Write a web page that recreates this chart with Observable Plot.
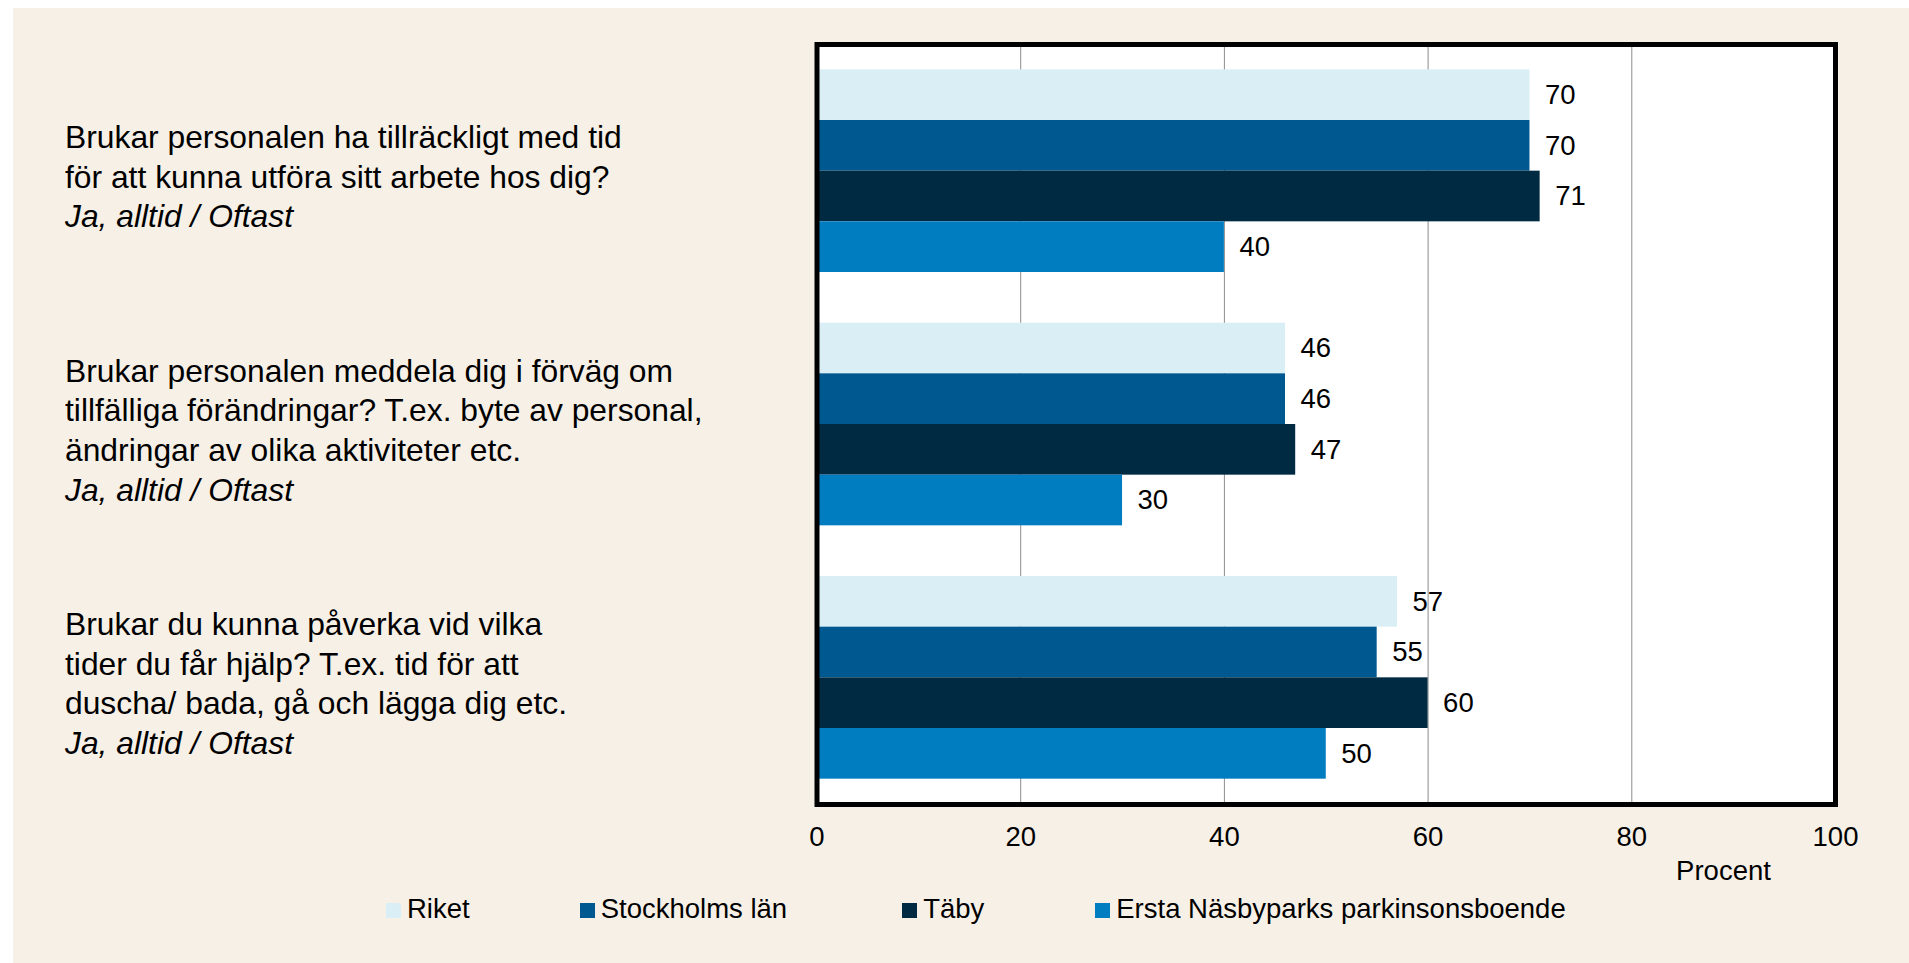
<!DOCTYPE html>
<html>
<head>
<meta charset="utf-8">
<script src="https://cdn.jsdelivr.net/npm/d3@7"></script>
<script src="https://cdn.jsdelivr.net/npm/@observablehq/plot@0.6"></script>
<style>
  html, body { margin: 0; padding: 0; background: #ffffff; width: 1909px; height: 963px; overflow: hidden; }
  #bg { position: absolute; left: 13px; top: 8px; width: 1896px; height: 955px; background: #F7F0E7; }
  #chart { position: absolute; left: 0; top: 0; }
  #legend { position: absolute; left: 386px; top: 893px; display: flex; gap: 0; font-family: "Liberation Sans", Arial, sans-serif; font-size: 27.5px; color: #000; }
  .item { display: flex; align-items: center; white-space: nowrap; }
  .sw { width: 15px; height: 15px; margin-right: 6px; margin-top: 2px; }
</style>
</head>
<body>
<div id="bg"></div>
<div id="chart"></div>
<div id="legend"></div>
<script>
const questions = [
  "Brukar personalen ha tillräckligt med tid\nför att kunna utföra sitt arbete hos dig?",
  "Brukar personalen meddela dig i förväg om\ntillfälliga förändringar? T.ex. byte av personal,\nändringar av olika aktiviteter etc.",
  "Brukar du kunna påverka vid vilka\ntider du får hjälp? T.ex. tid för att\nduscha/ bada, gå och lägga dig etc."
];
const answerLabel = "Ja, alltid / Oftast";
const series = ["Riket", "Stockholms län", "Täby", "Ersta Näsbyparks parkinsonsboende"];
const riket = [70, 46, 57];
const stockholmsLan = [70, 46, 55];
const taby = [71, 47, 60];
const ersta = [40, 30, 50];
const xTicks = [0, 20, 40, 60, 80, 100];
const colors = ["#DAEEF5", "#005891", "#002A42", "#007CC0"];
const axisTitle = "Procent";

const values = [riket, stockholmsLan, taby, ersta];
const data = [];
questions.forEach((q, qi) => {
  series.forEach((s, si) => {
    data.push({question: q, qi, series: s, si, value: values[si][qi]});
  });
});
const slot = series.length + 1; // bars per group + one gap
const labels = questions.map((q, qi) => ({text: q + "\n" + answerLabel, qi}));

const font = '"Liberation Sans", Arial, sans-serif';

const chart = Plot.plot({
  width: 1909,
  height: 890,
  marginLeft: 816.5,
  marginRight: 74,
  marginTop: 44,
  marginBottom: 86,
  style: {background: "transparent", fontFamily: font, color: "#000"},
  x: {domain: [0, 100]},
  y: {domain: [0, questions.length * slot], reverse: true, axis: null},
  color: {domain: series, range: colors},
  marks: [
    Plot.frame({fill: "white", stroke: null}),
    Plot.ruleX(xTicks.filter(t => t > 0 && t < 100), {stroke: "#8c8c8c", strokeWidth: 1}),
    Plot.rect(data, {
      x1: 0, x2: "value",
      y1: d => d.qi * slot + 0.5 + d.si,
      y2: d => d.qi * slot + 1.5 + d.si,
      fill: "series"
    }),
    Plot.text(data, {
      x: "value", y: d => d.qi * slot + 1 + d.si,
      text: d => String(d.value),
      dx: 15, textAnchor: "start", fontSize: 27.5, fill: "#000"
    }),
    Plot.text(labels, {
      frameAnchor: "left", y: d => d.qi * slot + slot / 2,
      text: "text", dx: -752, dy: 4, textAnchor: "start",
      lineAnchor: "middle", lineHeight: 1.245, fontSize: 31.8, fill: "#000"
    }),
    Plot.axisX(xTicks, {tickSize: 0, tickPadding: 22, fontSize: 27.5, label: null}),
    Plot.text([axisTitle], {frameAnchor: "bottom-right", text: d => d, dx: -112, dy: 75.5, textAnchor: "middle", fontSize: 27.5, fill: "#000"}),
    Plot.frame({stroke: "#000", strokeWidth: 5})
  ]
});

// italicise the answer line
chart.querySelectorAll("tspan").forEach(t => {
  if (t.textContent === answerLabel) t.setAttribute("font-style", "italic");
});
document.getElementById("chart").appendChild(chart);

const gaps = [0, 110, 115, 111];
const legend = document.getElementById("legend");
series.forEach((s, i) => {
  const item = document.createElement("div");
  item.className = "item";
  item.style.marginLeft = gaps[i] + "px";
  const sw = document.createElement("span");
  sw.className = "sw";
  sw.style.background = colors[i];
  const lab = document.createElement("span");
  lab.textContent = s;
  item.appendChild(sw);
  item.appendChild(lab);
  legend.appendChild(item);
});
</script>
</body>
</html>
